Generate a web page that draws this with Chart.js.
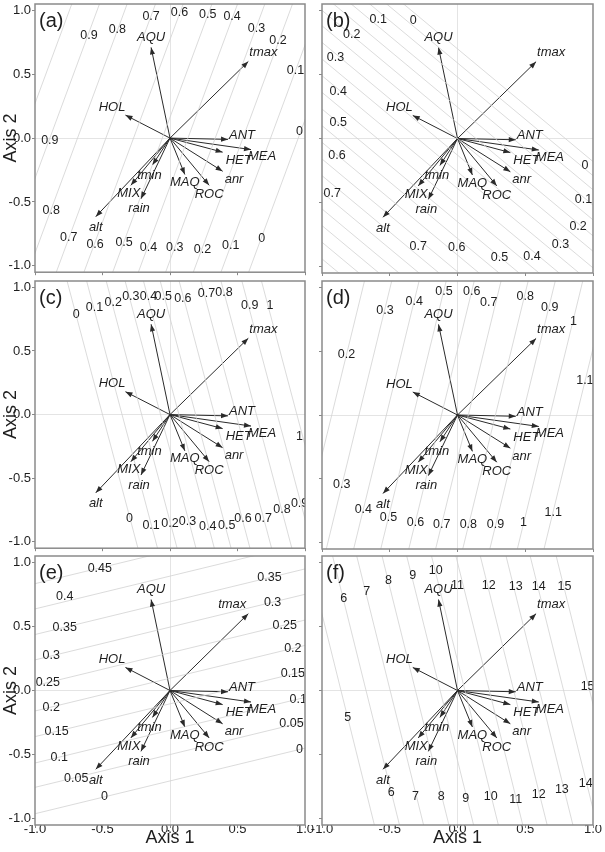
<!DOCTYPE html>
<html>
<head>
<meta charset="utf-8">
<script src="https://cdn.jsdelivr.net/npm/chart.js@4.4.1/dist/chart.umd.min.js"></script>
<style>
  html, body { margin: 0; padding: 0; background: #fff; }
  #wrap { position: relative; width: 605px; height: 852px; overflow: hidden; }
  #wrap canvas { position: absolute; }
</style>
</head>
<body>
<div id="wrap"></div>
<script>
// arrows, identical in every panel
var arrowNames = ["AQU", "tmax", "HOL", "ANT", "MEA", "HET", "anr", "ROC", "MAQ", "tmin", "MIX", "rain", "alt"];
var arrowX = [-0.14, 0.58, -0.33, 0.43, 0.60, 0.39, 0.39, 0.29, 0.11, -0.13, -0.29, -0.215, -0.55];
var arrowY = [0.71, 0.60, 0.18, -0.01, -0.09, -0.11, -0.26, -0.37, -0.285, -0.21, -0.37, -0.475, -0.615];

var xTicks = [-1, -0.5, 0, 0.5, 1];
var yTicks = [-1, -0.5, 0, 0.5, 1];

// contour lines: steep panels give x at y=0 and dx/dy, flat panels give y at x=0 and dy/dx
var aLines = [-1.095, -0.89, -0.685, -0.475, -0.27, -0.057, 0.133, 0.335, 0.54, 0.745, 0.95];
var aTilt = 0.35;
var aText = [["0.9",-0.60,0.80],["0.8",-0.39,0.85],["0.7",-0.14,0.95],["0.6",0.07,0.98],["0.5",0.28,0.97],
  ["0.4",0.46,0.95],["0.3",0.64,0.86],["0.2",0.80,0.76],["0.1",0.93,0.53],["0",0.96,0.05],
  ["0.9",-0.89,-0.02],["0.8",-0.88,-0.57],
  ["0.7",-0.75,-0.78],["0.6",-0.555,-0.83],["0.5",-0.34,-0.82],["0.4",-0.16,-0.855],["0.3",0.035,-0.855],
  ["0.2",0.24,-0.87],["0.1",0.45,-0.84],["0",0.68,-0.79]];

var bLines = [-1.82, -1.69, -1.56, -1.43, -1.30, -1.17, -1.04, -0.91, -0.78, -0.65, -0.52, -0.39, -0.26,
  -0.13, 0.0, 0.12, 0.245, 0.36, 0.48, 0.59, 0.70];
var bTilt = -0.88;
var bText = [["0.1",-0.585,0.93],["0",-0.326,0.92],["0.2",-0.78,0.81],["0.3",-0.90,0.63],["0.4",-0.88,0.37],
  ["0.5",-0.88,0.126],["0.6",-0.89,-0.13],["0.7",-0.925,-0.43],
  ["0.7",-0.29,-0.84],["0.6",-0.006,-0.855],["0.5",0.31,-0.93],["0.4",0.55,-0.92],
  ["0.3",0.76,-0.83],["0.2",0.89,-0.69],["0.1",0.93,-0.48],["0",0.94,-0.21]];

var cLines = [-0.50, -0.355, -0.21, -0.07, 0.066, 0.19, 0.33, 0.49, 0.64, 0.795, 0.94];
var cTilt = -0.25;
var cText = [["0",-0.695,0.79],["0.1",-0.56,0.84],["0.2",-0.42,0.88],["0.3",-0.29,0.93],["0.4",-0.16,0.93],
  ["0.5",-0.05,0.93],["0.6",0.095,0.91],["0.7",0.27,0.95],["0.8",0.40,0.96],["0.9",0.59,0.86],
  ["1",0.74,0.86],["1",0.96,-0.17],
  ["0",-0.30,-0.82],["0.1",-0.14,-0.87],["0.2",0.0,-0.86],["0.3",0.13,-0.84],["0.4",0.28,-0.88],
  ["0.5",0.42,-0.87],["0.6",0.54,-0.82],["0.7",0.69,-0.82],["0.8",0.83,-0.75],["0.9",0.96,-0.70]];

var dLines = [-0.928, -0.727, -0.525, -0.325, -0.118, 0.08, 0.28, 0.48, 0.683, 0.88];
var dTilt = 0.23;
var dText = [["0.3",-0.535,0.82],["0.4",-0.32,0.89],["0.5",-0.10,0.97],["0.6",0.105,0.97],["0.7",0.23,0.88],
  ["0.8",0.50,0.93],["0.9",0.68,0.84],["1",0.855,0.73],["1.1",0.94,0.27],["0.2",-0.82,0.47],
  ["0.3",-0.855,-0.545],["0.4",-0.695,-0.74],["0.5",-0.51,-0.80],["0.6",-0.31,-0.84],["0.7",-0.117,-0.86],
  ["0.8",0.08,-0.86],["0.9",0.28,-0.855],["1",0.486,-0.84],["1.1",0.707,-0.765]];

var eLines = [-0.706, -0.50, -0.31, -0.104, 0.096, 0.294, 0.495, 0.693, 0.893, 1.09];
var eTilt = 0.256;
var eText = [["0.45",-0.52,0.95],["0.4",-0.78,0.73],["0.35",-0.78,0.49],["0.3",-0.88,0.27],["0.25",-0.905,0.064],
  ["0.2",-0.88,-0.13],["0.15",-0.84,-0.32],["0.1",-0.82,-0.52],["0.05",-0.695,-0.69],["0",-0.485,-0.83],
  ["0.35",0.737,0.885],["0.3",0.76,0.69],["0.25",0.85,0.51],["0.2",0.91,0.33],["0.15",0.91,0.13],
  ["0.1",0.95,-0.07],["0.05",0.90,-0.26],["0",0.96,-0.46]];

var fLines = [-0.86, -0.675, -0.497, -0.31, -0.128, 0.055, 0.235, 0.415, 0.605, 0.783, 0.975];
var fTilt = -0.235;
var fText = [["6",-0.84,0.72],["7",-0.67,0.775],["8",-0.51,0.86],["9",-0.33,0.90],["10",-0.16,0.94],
  ["11",0.0,0.82],["12",0.23,0.82],["13",0.43,0.81],["14",0.60,0.81],["15",0.79,0.81],["15",0.96,0.03],
  ["5",-0.81,-0.21],["6",-0.49,-0.80],["7",-0.31,-0.83],["8",-0.12,-0.83],["9",0.06,-0.84],
  ["10",0.245,-0.83],["11",0.43,-0.85],["12",0.60,-0.81],["13",0.77,-0.77],["14",0.946,-0.73]];

// layout
var colX = [35, 322], colW = [270, 271];
var rowY = [4, 281, 556], rowH = [269, 268, 269];
var FONT = "'Liberation Sans', Arial, sans-serif";
var INK = "#1e1e1e";

// where each arrow label sits relative to its tip (px)
var tipLabel = {
  AQU: [0, -10, "center"], tmax: [1, -9, "left"], HOL: [0, -8, "right"], ANT: [1, -4, "left"],
  MEA: [-3, 7, "left"], HET: [3, 8, "left"], anr: [2, 8, "left"], ROC: [0, 9, "center"],
  MAQ: [0, 8, "center"], tmin: [-3, 10, "center"], MIX: [-2, 8, "center"], rain: [-2, 10, "center"],
  alt: [0, 11, "center"]
};
// panel (e) puts tmax on the other side of its tip
var tipLabelE = { tmax: [-2, -9, "right"] };

Chart.defaults.font.family = FONT;
Chart.defaults.color = INK;

var panels = [
  { tag: "(a)", col: 0, row: 0, lines: aLines, tilt: aTilt, steep: true, text: aText },
  { tag: "(b)", col: 1, row: 0, lines: bLines, tilt: bTilt, steep: false, text: bText },
  { tag: "(c)", col: 0, row: 1, lines: cLines, tilt: cTilt, steep: true, text: cText },
  { tag: "(d)", col: 1, row: 1, lines: dLines, tilt: dTilt, steep: true, text: dText },
  { tag: "(e)", col: 0, row: 2, lines: eLines, tilt: eTilt, steep: false, text: eText, tips: tipLabelE },
  { tag: "(f)", col: 1, row: 2, lines: fLines, tilt: fTilt, steep: true, text: fText }
];

function zeroGrid(ctx) {
  return ctx.tick && ctx.tick.value === 0 ? "#e4e4e4" : "rgba(0,0,0,0)";
}

function biplotPlugin(p) {
  return {
    id: "biplot" + p.tag,
    afterDatasetsDraw: function (chart) {
      var ctx = chart.ctx, xs = chart.scales.x, ys = chart.scales.y, a = chart.chartArea;
      ctx.save();
      ctx.beginPath();
      ctx.rect(a.left, a.top, a.right - a.left, a.bottom - a.top);
      ctx.clip();
      // arrowheads
      ctx.fillStyle = "#2a2a2a";
      for (var i = 0; i < arrowNames.length; i++) {
        var x0 = xs.getPixelForValue(0), y0 = ys.getPixelForValue(0);
        var x1 = xs.getPixelForValue(arrowX[i]), y1 = ys.getPixelForValue(arrowY[i]);
        var ang = Math.atan2(y1 - y0, x1 - x0);
        ctx.save();
        ctx.translate(x1, y1);
        ctx.rotate(ang);
        ctx.beginPath();
        ctx.moveTo(0, 0);
        ctx.lineTo(-7, -2.6);
        ctx.lineTo(-7, 2.6);
        ctx.closePath();
        ctx.fill();
        ctx.restore();
      }
      // arrow names
      ctx.font = "italic 13px " + FONT;
      ctx.fillStyle = INK;
      ctx.textBaseline = "middle";
      arrowNames.forEach(function (n, i) {
        var o = (p.tips && p.tips[n]) || tipLabel[n];
        ctx.textAlign = o[2];
        ctx.fillText(n, xs.getPixelForValue(arrowX[i]) + o[0], ys.getPixelForValue(arrowY[i]) + o[1]);
      });
      // contour values
      ctx.font = "12.5px " + FONT;
      ctx.textAlign = "center";
      p.text.forEach(function (t) {
        ctx.fillText(t[0], xs.getPixelForValue(t[1]), ys.getPixelForValue(t[2]));
      });
      ctx.restore();
      // panel tag
      ctx.save();
      ctx.font = "20px " + FONT;
      ctx.fillStyle = INK;
      ctx.textAlign = "left";
      ctx.textBaseline = "middle";
      ctx.fillText(p.tag, a.left + 4, a.top + 17);
      ctx.restore();
    },
    afterDraw: function (chart) {
      var ctx = chart.ctx, a = chart.chartArea;
      ctx.save();
      ctx.strokeStyle = "#8a8a8a";
      ctx.lineWidth = 1.5;
      ctx.strokeRect(a.left, a.top, a.right - a.left, a.bottom - a.top);
      ctx.restore();
    }
  };
}

panels.forEach(function (p) {
  var leftM = 35, topM = 10, rightM = 15;
  var isLeft = p.col === 0, isBottom = p.row === 2;
  var bottomM = isBottom ? 852 - (rowY[p.row] + rowH[p.row]) : 8;
  var cv = document.createElement("canvas");
  var w = leftM + colW[p.col] + rightM, h = topM + rowH[p.row] + bottomM;
  cv.width = w; cv.height = h;
  cv.style.left = (colX[p.col] - leftM) + "px";
  cv.style.top = (rowY[p.row] - topM) + "px";
  cv.style.width = w + "px"; cv.style.height = h + "px";
  document.getElementById("wrap").appendChild(cv);

  var datasets = [];
  p.lines.forEach(function (c) {
    var pts = p.steep
      ? [{ x: c - p.tilt * 1.2, y: -1.2 }, { x: c + p.tilt * 1.2, y: 1.2 }]
      : [{ x: -1.2, y: c - p.tilt * 1.2 }, { x: 1.2, y: c + p.tilt * 1.2 }];
    datasets.push({ data: pts, showLine: true, borderColor: "#d2d2d2", borderWidth: 0.8, pointRadius: 0 });
  });
  arrowNames.forEach(function (n, i) {
    datasets.push({
      data: [{ x: 0, y: 0 }, { x: arrowX[i], y: arrowY[i] }],
      showLine: true, borderColor: "#2a2a2a", borderWidth: 1, pointRadius: 0
    });
  });

  new Chart(cv, {
    type: "scatter",
    data: { datasets: datasets },
    options: {
      responsive: false,
      animation: false,
      devicePixelRatio: 1,
      layout: { padding: { left: 0, top: topM, right: rightM, bottom: 0 } },
      plugins: { legend: { display: false }, tooltip: { enabled: false } },
      scales: {
        x: {
          type: "linear", min: -1, max: 1,
          afterBuildTicks: function (s) { s.ticks = xTicks.map(function (v) { return { value: v }; }); },
          afterFit: function (s) { s.height = bottomM; },
          grid: { color: zeroGrid, tickLength: 3, tickColor: "#888", tickWidth: 1 },
          border: { display: false },
          ticks: {
            display: isBottom, padding: -6, font: { size: 13 }, color: INK, maxRotation: 0,
            callback: function (v) { return Number(v).toFixed(1); }
          },
          title: { display: isBottom, text: "Axis 1", font: { size: 18 }, color: INK, padding: { top: 0, bottom: 3 } }
        },
        y: {
          type: "linear", min: -1.05, max: 1.05,
          afterBuildTicks: function (s) { s.ticks = yTicks.map(function (v) { return { value: v }; }); },
          afterFit: function (s) { s.width = leftM; },
          grid: { color: zeroGrid, tickLength: 3, tickColor: "#888", tickWidth: 1 },
          border: { display: false },
          ticks: {
            display: isLeft, padding: 1, font: { size: 13 }, color: INK,
            callback: function (v) { return Number(v).toFixed(1); }
          },
          title: { display: isLeft, text: "Axis 2", font: { size: 18 }, color: INK, padding: { top: 0, bottom: 0 } }
        }
      }
    },
    plugins: [biplotPlugin(p)]
  });
});
</script>
</body>
</html>
